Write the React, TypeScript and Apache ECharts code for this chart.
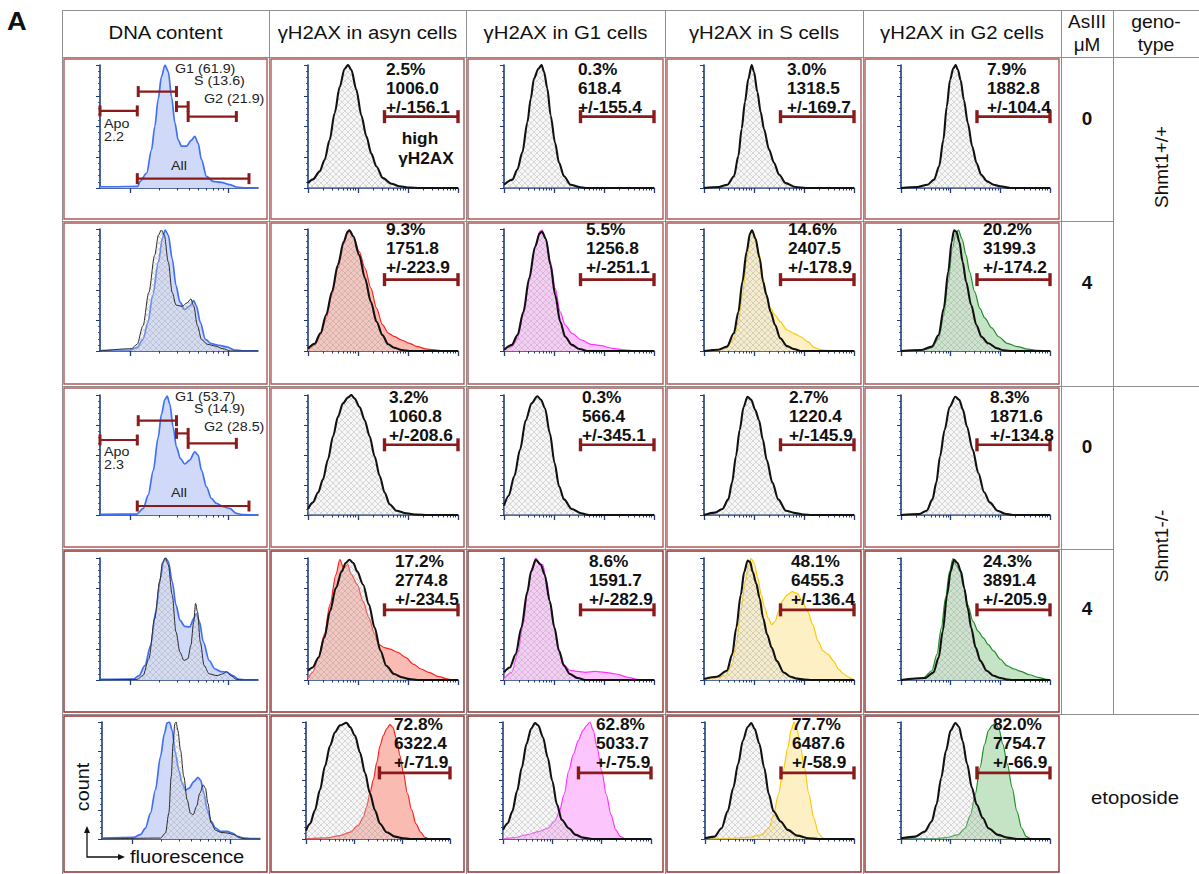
import React, { useEffect, useRef } from "react";
import * as echarts from "echarts";

type Pt = [number, number];

// x = % of the axis range (log fluorescence), y = % of the panel peak count
// ---------- row 1: Shmt1+/+, AsIII 0 ----------
const DNA_R1_BLUE: Pt[] = [[0,1],[8,1],[24,1.4],[25.3,5.4],[29.5,12],[32.6,31],[34.7,50],[36.8,72],[38.9,90.5],[41.1,100],[43.2,94.6],[45.3,74],[47.4,53],[49.5,39],[51.6,34],[54.7,34],[57.9,39],[60,42],[62.1,36.5],[64.2,23],[67.4,9.5],[71.6,5.4],[76.8,4.6],[82.1,2.7],[86.3,0.8],[92.6,0],[100,0]];
const ASYN_R1_BLACK: Pt[] = [[0,4],[3.3,7],[7.8,13.5],[11.1,23],[14.4,39],[17.8,61],[21.1,82],[24.4,97],[26.7,100],[28.9,96],[32.2,80],[35.6,59],[38.9,42],[42.2,28],[45.6,17.5],[50,8],[55.6,3.5],[61.1,1.4],[67.8,0.3],[74.4,0],[100,0]];
const G1_R1_BLACK: Pt[] = [[0,2.7],[5.6,6.8],[8.9,15],[12.2,28.8],[15.6,53.4],[17.8,72.6],[20,89],[22.9,97],[25.1,100],[26.7,94.5],[28.9,80.8],[31.1,59],[34,37],[36.7,20.5],[40,9.6],[44.4,2.7],[50,0.8],[54.4,0],[100,0]];
const S_R1_BLACK: Pt[] = [[0,0],[10,0.8],[15.6,2.7],[20,9.6],[22.9,26],[25.1,48],[27.3,70],[29.6,89],[31.8,100],[33.3,94.5],[35.6,78],[37.8,61.6],[40,48],[43.3,31.5],[46.7,20.5],[50,11],[54.4,4],[61.1,0.8],[67.8,0],[100,0]];
const G2_R1_BLACK: Pt[] = [[0,0],[11.1,0.8],[17.8,2.7],[22.2,6.8],[25.6,17.6],[28.4,39],[30.7,66],[32.9,87.8],[35.1,97.3],[36.7,100],[38.2,96],[40,87.8],[42.2,71.6],[44.9,52.7],[47.8,33.8],[50.7,20.3],[53.8,10.8],[57.8,5.4],[62.2,2.7],[66.7,1.4],[73.3,0],[100,0]];

// ---------- row 2: Shmt1+/+, AsIII 4 ----------
const DNA_R2_BLUE: Pt[] = [[0,0.3],[18.5,0.5],[23.5,2.8],[27.2,9.6],[30.4,23.4],[33.3,45.5],[37,73],[39.5,92.6],[41.2,99.2],[43.2,95],[45.7,75.8],[48.1,53.7],[50.6,40],[53.6,34],[56.8,37],[59.3,41.3],[61,37],[63.5,23.4],[66.7,9.6],[70.4,6],[75.3,4.7],[80.2,3.3],[85.2,0.8],[90.1,0.2],[100,0.2]];
const DNA_R2_BLACK: Pt[] = [[0,0],[19.8,1.9],[23.5,5.5],[27.2,20.7],[30.9,48],[34.6,78.5],[37,95],[38.8,99.2],[40.7,95],[43.2,73],[45.7,48],[48.1,37.7],[51.9,36.6],[55.1,39.4],[57.5,42.7],[59.3,37],[61.7,20.7],[64.2,9.6],[67.9,5.5],[72.8,4.1],[77.8,1.9],[82.7,0],[100,0]];
const ASYN_R2_RED: Pt[] = [[0,0.8],[4.4,5],[8.3,13],[12.1,26.8],[16,46],[19.9,68],[23.8,88],[26.4,96.4],[27.6,99],[30.2,94],[34.1,81.4],[38,68],[41.9,51.6],[45.7,35.2],[49.6,21.6],[53.5,14.7],[57.4,12],[62.5,9],[67.7,6.3],[72.9,3.6],[79.3,1.6],[85.8,0.8],[91,0],[100,0]];
const ASYN_R2_BLACK: Pt[] = [[0,2],[4.4,6],[8.3,14.5],[12.1,29.5],[16,48.6],[19.9,70.5],[23.8,89.6],[26.4,97.8],[27.6,99],[30.2,94],[34.1,78.7],[38,59.6],[41.9,40.4],[45.7,24],[49.6,13],[53.5,5.5],[57.4,2.7],[62.5,0.8],[67.7,0],[100,0]];
const G1_R2_MAG: Pt[] = [[0,0.8],[5.2,3.6],[9,10.4],[12.9,29.5],[16.8,56.8],[20.7,84],[23.8,97.8],[25.3,99],[27.9,92],[31,73],[34.1,51.4],[37.5,32],[40.8,21.3],[45.2,14.5],[51.7,9],[58.1,5.5],[64.6,4.4],[72.4,2.2],[80.1,1],[87.9,0],[100,0]];
const G1_R2_BLACK: Pt[] = [[0,0.8],[5.2,5],[9,13],[12.9,32],[16.8,59.6],[20.7,85.5],[23.8,96.4],[25.3,97.8],[27.9,92],[31,70.5],[34.1,46],[37.5,24],[40.8,11.7],[45.2,5],[50.4,1.6],[55.6,0],[100,0]];
const S_R2_YEL: Pt[] = [[0,0],[9.6,0.8],[15.3,2.7],[19.9,10.4],[22.9,24],[25.6,46],[28.4,73],[30.7,95],[32,99],[34.3,89.6],[37.1,78.7],[39.4,59.6],[41.6,46],[44.4,35],[47.4,29.5],[50.8,24],[55.4,17.2],[60,14.5],[64.5,11.7],[69.1,7.7],[73.7,2.7],[78.3,1],[85.1,0],[100,0]];
const S_R2_BLACK: Pt[] = [[0,0],[9.6,1],[15.3,3.6],[19.9,14.5],[22.9,32],[25.6,56.8],[28.4,81.4],[30.7,96.4],[32,99],[34.3,92.3],[37.1,76],[39.4,56.8],[41.6,46],[44.4,32],[47.4,21.3],[50.8,10.4],[55.4,4],[60,1.6],[64.5,0],[100,0]];
const G2_R2_GRN: Pt[] = [[0,0],[13.8,0.8],[20.7,2.7],[25.3,10.4],[28.7,29.5],[31.7,56.8],[34.5,84],[36.8,96.4],[38.6,99],[40.9,92],[43.7,78.7],[46,65],[49.4,48.6],[52.9,35],[56.3,27],[60.9,18.9],[65.5,11.7],[71.3,6.3],[78.2,3.6],[85.1,1.6],[92,0.5],[100,0]];
const G2_R2_BLACK: Pt[] = [[0,0],[13.8,0.8],[20.7,3.6],[25.3,13],[28.7,35],[31.7,65],[34,89.6],[35.6,99],[37.2,97.8],[39.1,89.6],[41.4,73],[43.7,56.8],[47.1,37.7],[50.6,21.3],[54,11.7],[58.6,6.3],[64.4,2.2],[69,0.5],[75,0],[100,0]];

// ---------- row 3: Shmt1-/-, AsIII 0 ----------
const DNA_R3_BLUE: Pt[] = [[0,0.5],[23.2,0.8],[27.4,5.5],[30.5,16.6],[33.7,37],[36.8,64.6],[38.9,84],[41.1,96.4],[42.5,99],[44.2,92.5],[46.3,73],[48.4,56.6],[50.9,47],[53.7,42.5],[56.8,45.8],[60,52.6],[62.1,50],[64.2,37.4],[67.4,23.5],[70.5,13.8],[73.7,9.7],[77.9,7],[82.1,5.5],[86.3,1.4],[90.5,0.3],[100,0]];
const ASYN_R3_BLACK: Pt[] = [[0,5],[3.3,10.5],[6.7,18.7],[10,29.8],[13.3,46.3],[16.7,65.6],[20,82],[23.3,93],[26.7,98],[28.9,100],[31.1,97],[34.4,90],[37.8,79],[41.1,65.6],[44.4,49],[47.8,32.5],[51.1,18.7],[54.4,9],[58.9,3.6],[65.6,1.4],[72.2,0.3],[80,0],[100,0]];
const G1_R3_BLACK: Pt[] = [[0,7.7],[3.1,16],[6.9,32.5],[10.7,54.5],[14.5,79],[18.4,93],[22.2,99],[24.7,96],[27.3,89],[30.6,68],[33.7,43.5],[36.7,24],[40,13],[45.2,5],[51.5,1.4],[56.6,0],[100,0]];
const S_R3_BLACK: Pt[] = [[0,0],[7.2,2],[12.3,5],[16.2,13],[18.7,27],[21.3,49],[23.8,71],[26.4,90],[29,98.6],[31.5,96],[34.1,87.6],[36.7,79],[39.2,63],[41.8,46],[45.6,27],[49.5,13],[54.6,3.6],[61,1.6],[66.2,0.3],[72,0],[100,0]];
const G2_R3_BLACK: Pt[] = [[0,0],[12.1,0.8],[17.2,3.6],[21.1,13],[23.7,27],[26.2,49],[29.3,71],[32.6,90],[36.5,98.6],[39.1,96],[41.6,87.6],[44.2,74],[48.1,54.5],[51.9,35],[55.8,19],[59.6,10.5],[64.8,3.6],[69.9,1],[75.1,0],[100,0]];

// ---------- row 4: Shmt1-/-, AsIII 4 ----------
const DNA_R4_BLUE: Pt[] = [[0,0.5],[21,0.8],[24.7,3.6],[28.4,11.8],[32.1,28.4],[35.3,56],[38.3,83.5],[40.2,97.2],[41.5,100],[43.2,97.2],[45.7,80.7],[48.1,61.4],[50.6,49],[53.6,44],[56.8,43.5],[59.3,50.4],[61,54.5],[63,47.7],[65.4,31],[69.1,16],[72.8,9],[76.5,6.9],[80.2,6.3],[84,3.6],[87.7,0.8],[92.6,0],[100,0]];
const DNA_R4_BLACK: Pt[] = [[0,0],[23.5,0.5],[27.2,3.6],[30.9,17.4],[34.6,50.4],[37.8,80.7],[39.5,95.9],[41.2,100],[43.2,94.5],[45.7,69.7],[48.1,39.4],[50.6,22.9],[53.1,16],[55.6,17.4],[57.5,28.4],[59.3,47.7],[60.5,62.8],[61.7,56],[63.5,31],[65.9,11.8],[69.1,5],[74.1,3.6],[77.8,5],[80.2,6.9],[82.7,3.6],[86.4,0.5],[90,0],[100,0]];
const ASYN_R4_RED: Pt[] = [[0,0.8],[3.1,6.3],[7,18.5],[10.9,37.5],[14.7,62],[18.6,86.4],[21.2,98.6],[23.8,91.8],[26.4,94.6],[28.9,86.4],[32.8,78.3],[36.7,64.7],[40.6,51.1],[44.4,37.5],[47,29.3],[50.9,26.6],[54.8,25.3],[59.9,22.6],[65.1,18.5],[70.3,13],[75.5,9],[80.6,6.3],[87.1,2.7],[93.5,0.8],[96.1,0],[100,0]];
const ASYN_R4_BLACK: Pt[] = [[0,7.6],[3.1,10.3],[7,18.5],[10.9,34.8],[14.7,56.5],[18.6,75.5],[22.5,89],[25.1,95.9],[27.6,98.6],[30.2,95.9],[32.8,89],[36.7,78.3],[40.6,62],[44.4,43],[48.3,24],[52.2,11.7],[57.4,4.9],[62.5,2.2],[67.7,0.8],[72.9,0],[100,0]];
const G1_R4_MAG: Pt[] = [[0,0.8],[5.2,6.3],[9,21],[12.9,45.7],[15.5,70],[18.6,91.8],[21.2,100],[23.8,94.6],[25.8,94.6],[28.4,81],[31,62],[33.6,43],[36.2,24],[39.3,13],[43.9,8],[49.1,7],[54.3,6.3],[60.7,7],[67.2,6.3],[74.9,4.9],[82.7,2.2],[87.9,0.8],[92,0],[100,0]];
const G1_R4_BLACK: Pt[] = [[0,6.3],[3.9,10.3],[7.8,21],[11.6,43],[15.5,72],[18.1,89],[21.2,98.6],[24.5,94.6],[27.1,86.4],[30.5,64.7],[33.6,43],[36.7,24],[40,11.7],[43.9,4.9],[49.1,1.6],[54.3,0],[100,0]];
const S_R4_YEL: Pt[] = [[0,0.8],[7.3,1.6],[14.2,3.5],[18.8,13],[21.5,29.2],[24.5,56.2],[27.5,80.5],[29.7,94],[31.4,99.5],[33.6,95.4],[35.9,83.2],[38.2,69.7],[40.5,59],[42.8,50.8],[45.1,45.4],[47.4,48.1],[49.7,56.2],[51.9,64.3],[55.4,69.7],[58.8,72.4],[62.2,71],[65.7,64.3],[69.1,56.2],[72.5,45.4],[76,31.9],[79.4,23.8],[82.8,21],[86.3,15.7],[89.7,8.9],[93.1,4.9],[96.6,2.2],[98.9,0.8],[100,0]];
const S_R4_BLACK: Pt[] = [[0,0.8],[8.5,2.7],[15.3,7.6],[18.8,21],[21.5,42.7],[24.5,69.7],[26.8,88.6],[29.1,98],[30.7,96.8],[32.5,88.6],[34.8,79.2],[37.1,67],[39.4,50.8],[42.1,37.3],[45.1,26.5],[48.5,15.7],[53.1,6.2],[57.7,2.7],[62.2,1.1],[66.8,0.3],[72,0],[100,0]];
const G2_R4_GRN: Pt[] = [[0,0],[14.9,1.6],[20.7,7.6],[24.1,21],[27.1,43],[29.9,67.6],[32.6,89],[34.9,99.5],[37.2,94],[39.5,89],[41.8,78],[44.8,61.6],[48.3,48],[51.7,40],[55.2,34.6],[58.6,29],[62.1,23.8],[66.7,17],[71.3,11.6],[75.9,9],[80.5,7],[86.2,4.3],[92,2.2],[96.6,0.8],[100,0]];
const G2_R4_BLACK: Pt[] = [[0,0],[16.1,1.6],[21.8,6.2],[25.3,18.4],[28,40],[31,70.3],[33.3,89],[35.6,98.6],[37.9,95.9],[40.2,89],[42.5,75],[44.8,59],[47.1,42.7],[50.1,26.5],[53.3,15.7],[57.5,7.6],[62.1,3.5],[66.7,1.6],[71.3,0.3],[75,0],[100,0]];

// ---------- row 5: etoposide ----------
const DNA_R5_BLUE: Pt[] = [[0,0.8],[20.1,1.4],[24.3,3.7],[27.5,9.3],[30.7,22.1],[33.8,41.9],[37,70.3],[39.5,90.1],[41.2,99.2],[42.7,100],[44.4,92.9],[46.5,73.1],[48.6,58.9],[50.7,47.6],[52.9,41.9],[55,43.3],[58.1,49],[60.7,52.7],[62.4,50.4],[64.5,39.1],[66.6,24.9],[69.1,15],[71.9,9.3],[75.1,6.5],[79.3,6.5],[82.5,5.1],[85.6,2.3],[89.9,0.8],[95,0.3],[100,0.3]];
const DNA_R5_BLACK: Pt[] = [[0,0],[37,0.8],[40.2,5.1],[42.3,22.1],[43.8,53.3],[45,81.6],[46.1,98.6],[46.9,100],[48,92.9],[49.7,75.9],[51.8,53.3],[53.9,33.4],[56,22.1],[57.7,20.7],[59.8,27.8],[61.9,39.1],[64.1,46.2],[65.5,43.3],[67,30.6],[69.1,13.6],[71.9,7.4],[75.1,5.7],[79.3,5.1],[83.5,3.7],[87.7,0.8],[92,0],[100,0]];
const ASYN_R5_RED: Pt[] = [[0,0],[14.4,0.9],[23.6,2.9],[30.6,5.8],[36.3,11.6],[39.8,18.8],[42.1,27.5],[44.4,39.1],[46.8,50.7],[49.1,65.2],[51.4,79.7],[53.7,88.4],[56,94.2],[58.3,97.7],[60.2,95.7],[62.9,85.5],[65.3,71],[67.6,56.5],[70.4,39.1],[73.4,24.6],[76.4,13],[79.6,5.8],[82.6,1.4],[86.1,0],[100,0]];
const ASYN_R5_BLACK: Pt[] = [[0,7.2],[2.8,13],[6.2,24.6],[9.7,42],[13.2,62.3],[16.7,79.7],[20.1,91.3],[23.6,97.1],[28.2,99.4],[30.6,95.7],[34,88.4],[37.5,73.9],[41,56.5],[44.4,39.1],[47.9,24.6],[51.4,13],[56,5.8],[61.8,2],[67.6,0.6],[72.2,0],[100,0]];
const G1_R5_MAG: Pt[] = [[0,0],[7.9,1.2],[15.9,3.5],[23.8,6.3],[30.2,9.2],[34.9,15],[38.1,23.6],[41.3,38],[44.4,58.2],[47.6,72.6],[50.8,84],[54,92.8],[56.5,97],[58.7,100],[61,92.8],[63.5,78.4],[66.7,58.2],[69.8,38],[73,20.7],[76.2,7.8],[79.4,2],[82.5,0],[100,0]];
const G1_R5_BLACK: Pt[] = [[0,7.8],[3.2,13.5],[6.3,23.6],[9.5,40.9],[12.7,61.1],[15.9,81.3],[19,94.2],[21.6,99.1],[23.8,97.1],[27,87],[30.2,69.7],[33.3,49.6],[36.5,29.4],[39.7,16.4],[44.4,9.2],[49.2,3.5],[54,1.2],[60.3,0],[100,0]];
const S_R5_YEL: Pt[] = [[0,0],[15.9,0.6],[28.6,1.4],[38.1,3.5],[42.9,9.2],[46,20.7],[49.2,38],[52.4,58.2],[55.6,78.4],[57.8,92.8],[59.7,100],[61.9,92.8],[64.1,78.4],[66.7,61.1],[69.8,38],[73,17.9],[76.2,4.9],[79.4,0.6],[82.5,0],[100,0]];
const S_R5_BLACK: Pt[] = [[0,0.6],[6.3,2],[11.1,9.2],[15.2,23.6],[19,43.8],[22.2,64],[25.4,84],[28.6,95.7],[31.1,99.1],[33.3,94.2],[36.5,81.3],[39.7,61.1],[42.9,38],[46,23.6],[50.8,15],[55.6,7.8],[61.9,2.9],[69.8,0.6],[76.2,0],[100,0]];
const G2_R5_GRN: Pt[] = [[0,0],[20.6,0],[30.2,1.2],[38.1,3.5],[42.9,9.2],[46.7,20.7],[49.8,38],[53,61.1],[56.2,81.3],[58.7,92.8],[61.3,97.1],[63.5,99.1],[65.7,94.2],[68.3,81.3],[71.4,64],[74.6,43.8],[77.8,23.6],[81,9.2],[84.1,2],[87.3,0],[100,0]];
const G2_R5_BLACK: Pt[] = [[0,0.6],[9.5,2],[15.9,6.3],[20.6,15],[23.8,29.4],[27,52.4],[30.2,75.5],[33.3,92.8],[36.5,99.1],[39,95.7],[41.3,84],[44.4,64],[47.6,43.8],[50.8,29.4],[54.9,17.9],[58.7,9.2],[65.1,3.5],[71.4,1.2],[77.8,0],[100,0]];

// ---------- statistics: % high γH2AX, mean, SD (rows × asyn,G1,S,G2) ----------
const PCT_HIGH = [[2.5,0.3,3.0,7.9],[9.3,5.5,14.6,20.2],[3.2,0.3,2.7,8.3],[17.2,8.6,48.1,24.3],[72.8,62.8,77.7,82.0]];
const MEAN_FL = [[1006.0,618.4,1318.5,1882.8],[1751.8,1256.8,2407.5,3199.3],[1060.8,566.4,1220.4,1871.6],[2774.8,1591.7,6455.3,3891.4],[6322.4,5033.7,6487.6,7754.7]];
const SD_FL = [[156.1,155.4,169.7,104.4],[223.9,251.1,178.9,174.2],[208.6,345.1,145.9,134.8],[234.5,282.9,136.4,205.9],[71.9,75.9,58.9,66.9]];

const PHASE_NAMES = ["G1", "S", "G2"];
const PHASES_R1 = [61.9, 13.6, 21.9];
const PHASES_R3 = [53.7, 14.9, 28.5];
const APO_R1 = 2.2;
const APO_R3 = 2.3;
const HEADERS = ["DNA content", "γH2AX in asyn cells", "γH2AX in G1 cells", "γH2AX in S cells", "γH2AX in G2 cells"];
const DOSES = ["0", "4", "0", "4"];
const GENOTYPES = ["Shmt1+/+", "Shmt1-/-"];

// gates [start, end, level] in axis units
const DNA_GATES_R1: [number, number, number][] = [[0,23.6,62.7],[24.2,48.4,78.4],[48.4,55.8,66.2],[55.8,86.3,58.1],[23.6,94.3,7.6]];
const DNA_GATES_R3: [number, number, number][] = [[0,23.6,62.5],[24.2,48.4,78.6],[48.4,55.8,68],[55.8,86.3,59.7],[23.6,94.3,7.5]];
const HIGH_GATE = [51, 100];
const HIGH_GATE_LEVEL = [58, 58.5, 58.5, 57.5, 56.5];

const CURVES: { col: Pt[] | null; blk: Pt[] | null }[][] = [
  [{ col: DNA_R1_BLUE, blk: null }, { col: null, blk: ASYN_R1_BLACK }, { col: null, blk: G1_R1_BLACK }, { col: null, blk: S_R1_BLACK }, { col: null, blk: G2_R1_BLACK }],
  [{ col: DNA_R2_BLUE, blk: DNA_R2_BLACK }, { col: ASYN_R2_RED, blk: ASYN_R2_BLACK }, { col: G1_R2_MAG, blk: G1_R2_BLACK }, { col: S_R2_YEL, blk: S_R2_BLACK }, { col: G2_R2_GRN, blk: G2_R2_BLACK }],
  [{ col: DNA_R3_BLUE, blk: null }, { col: null, blk: ASYN_R3_BLACK }, { col: null, blk: G1_R3_BLACK }, { col: null, blk: S_R3_BLACK }, { col: null, blk: G2_R3_BLACK }],
  [{ col: DNA_R4_BLUE, blk: DNA_R4_BLACK }, { col: ASYN_R4_RED, blk: ASYN_R4_BLACK }, { col: G1_R4_MAG, blk: G1_R4_BLACK }, { col: S_R4_YEL, blk: S_R4_BLACK }, { col: G2_R4_GRN, blk: G2_R4_BLACK }],
  [{ col: DNA_R5_BLUE, blk: DNA_R5_BLACK }, { col: ASYN_R5_RED, blk: ASYN_R5_BLACK }, { col: G1_R5_MAG, blk: G1_R5_BLACK }, { col: S_R5_YEL, blk: S_R5_BLACK }, { col: G2_R5_GRN, blk: G2_R5_BLACK }],
];

// ---------- layout & style ----------
const COLS = [62, 269, 466, 665, 863, 1061, 1113, 1199];
const ROWS = [57, 221, 386, 549, 714, 874];
const PLOT_TOP = [65, 229, 395, 558, 722];
const PLOT_BOT = [188, 351, 515, 680, 839];
const DNA_LEFT = [100, 100, 100, 100, 102];
const DNA_W = 158;
const HIST_LEFT = [[308,504,704,901],[308,504,704,901],[308,504,704,901],[308,504,704,901],[306,503,705,901]];
const HIST_W = [[150,150,150,149],[150,150,150,149],[150,150,150,149],[150,150,150,149],[144,148,149,149]];
const STAT_X = [[386,578,787,987],[386,586,788,983],[389,582,789,990],[395,589,791,983],[394,596,792,993]];
const STAT_Y0 = [70, 230, 398, 562, 725];

const LINE_COL = ["#3f70f5", "#ff2020", "#ff33ff", "#ffc800", "#1f8f26"];
const FILL_COL = ["#d0daf8", "#f9bbb2", "#fcc6fc", "#fdf0c4", "#c5e4c5"];
const AXIS = "#1f3b7a";
const GATE = "#8b1a1a";
const FF = '"Liberation Sans", Arial, Helvetica, sans-serif';

const HIST_MAJOR = [0, 100 / 3, 200 / 3, 100];
const HIST_MINOR: number[] = [];
for (let d = 0; d < 3; d++) for (let k = 2; k <= 9; k++) HIST_MINOR.push(((d + Math.log10(k)) * 100) / 3);
const DNA_MAJOR = [19, 81];
const DNA_MINOR: number[] = [];
for (let k = 2; k <= 9; k++) DNA_MINOR.push(19 + 62 * Math.log10(k));

function txt(x: number, y: number, text: string, size: number, o: any = {}) {
  const align = o.align ?? "left";
  return {
    type: "text", x, y, z: 50, silent: true,
    scaleX: o.sx ?? 1.12, rotation: o.rot ?? 0,
    style: {
      text, fontSize: size, fontWeight: o.bold ? "bold" : "normal", fontFamily: FF,
      fill: o.fill ?? "#111", textAlign: align, textVerticalAlign: "middle",
      align, verticalAlign: "middle",
    },
  };
}

export default function App() {
  const ref = useRef<HTMLDivElement>(null);
  useEffect(() => {
    if (!ref.current) return;
    const chart = echarts.init(ref.current, undefined, { renderer: "svg" });

    const T = 6;
    const cv = document.createElement("canvas");
    cv.width = T; cv.height = T;
    const ctx = cv.getContext("2d")!;
    ctx.fillStyle = "rgba(225,225,225,0.3)";
    ctx.fillRect(0, 0, T, T);
    ctx.strokeStyle = "rgba(120,120,120,0.42)";
    ctx.lineWidth = 0.6;
    ctx.beginPath();
    ctx.moveTo(0, 0); ctx.lineTo(T, T);
    ctx.moveTo(T, 0); ctx.lineTo(0, T);
    ctx.stroke();
    const hatch: any = { image: cv, repeat: "repeat", imageWidth: T, imageHeight: T };

    const grids: any[] = [], xAxes: any[] = [], yAxes: any[] = [], series: any[] = [];
    const gateSeries = (gi: number, a: number, b: number, lvl: number, cap: number, w: number) => ({
      type: "line", xAxisIndex: gi * 2, yAxisIndex: gi, data: [[a, lvl], [b, lvl]],
      symbol: "rect", symbolSize: [w + 0.8, cap], showSymbol: true, clip: false, silent: true,
      lineStyle: { color: GATE, width: w }, itemStyle: { color: GATE }, z: 6,
    });

    let gi = 0;
    for (let r = 0; r < 5; r++) {
      for (let c = 0; c < 5; c++) {
        const left = c === 0 ? DNA_LEFT[r] : HIST_LEFT[r][c - 1];
        const width = c === 0 ? DNA_W : HIST_W[r][c - 1];
        grids.push({ left, top: PLOT_TOP[r], width, height: PLOT_BOT[r] - PLOT_TOP[r] });
        xAxes.push({
          gridIndex: gi, type: "value", min: 0, max: 100, position: "bottom",
          axisLine: { show: true, onZero: false, lineStyle: { color: AXIS, width: 1.6 } },
          axisTick: { show: true, customValues: c === 0 ? DNA_MINOR : HIST_MINOR, length: 2.5, lineStyle: { color: AXIS, width: 1 } },
          axisLabel: { show: false }, splitLine: { show: false },
        });
        xAxes.push({
          gridIndex: gi, type: "value", min: 0, max: 100, position: "bottom",
          axisLine: { show: false, onZero: false },
          axisTick: { show: true, customValues: c === 0 ? DNA_MAJOR : HIST_MAJOR, length: 5, lineStyle: { color: AXIS, width: 1.3 } },
          axisLabel: { show: false }, splitLine: { show: false },
        });
        yAxes.push({
          gridIndex: gi, type: "value", min: 0, max: 100, interval: 25,
          axisLine: { show: true, onZero: false, lineStyle: { color: AXIS, width: 1.6 } },
          axisTick: { show: true, length: 4, lineStyle: { color: AXIS, width: 1 } },
          minorTick: { show: true, splitNumber: 5, length: 2, lineStyle: { color: AXIS, width: 0.8 } },
          axisLabel: { show: false }, splitLine: { show: false }, minorSplitLine: { show: false },
        });
        const cur = CURVES[r][c];
        if (cur.col) {
          series.push({
            type: "line", xAxisIndex: gi * 2, yAxisIndex: gi, data: cur.col, showSymbol: false, symbol: "none",
            smooth: 0.3, smoothMonotone: "x", silent: true,
            lineStyle: { color: LINE_COL[c], width: c === 0 ? 1.7 : 1.2 },
            areaStyle: { color: FILL_COL[c], opacity: 1 }, z: 2,
          });
        }
        if (cur.blk) {
          series.push({
            type: "line", xAxisIndex: gi * 2, yAxisIndex: gi, data: cur.blk, showSymbol: false, symbol: "none",
            smooth: 0.3, smoothMonotone: "x", silent: true,
            lineStyle: { color: c === 0 ? "#2b2b2b" : "#111", width: c === 0 ? 1 : 2.1 },
            areaStyle: { color: hatch, opacity: 1 }, z: 3,
          });
        }
        if (c > 0) {
          series.push(gateSeries(gi, HIGH_GATE[0], HIGH_GATE[1], HIGH_GATE_LEVEL[r], 13, 2.6));
        } else if (r === 0 || r === 2) {
          const gates = r === 0 ? DNA_GATES_R1 : DNA_GATES_R3;
          gates.forEach((g) => series.push(gateSeries(gi, g[0], g[1], g[2], 11, 2.2)));
        }
        gi++;
      }
    }

    const graphic: any[] = [];
    const gray = "#8e8e8e";
    const hl = (y: number, x1: number, x2: number) => ({ type: "line", z: 1, silent: true, shape: { x1, y1: y, x2, y2: y }, style: { stroke: gray, lineWidth: 1 } });
    const vl = (x: number, y1: number, y2: number) => ({ type: "line", z: 1, silent: true, shape: { x1: x, y1, x2: x, y2 }, style: { stroke: gray, lineWidth: 1 } });
    graphic.push(hl(10.5, 62, 1199), hl(57.5, 62, 1199), hl(221.5, 62, 1113), hl(386.5, 62, 1199), hl(549.5, 62, 1113), hl(714.5, 62, 1199));
    graphic.push(vl(62.5, 10, 874), vl(269.5, 10, 874), vl(466.5, 10, 874), vl(665.5, 10, 874), vl(863.5, 10, 874), vl(1061.5, 10, 714), vl(1113.5, 10, 714));
    for (let r = 0; r < 5; r++) {
      for (let c = 0; c < 5; c++) {
        graphic.push({
          type: "rect", z: 1, silent: true,
          shape: { x: COLS[c] + 2, y: ROWS[r] + 2, width: COLS[c + 1] - COLS[c] - 4, height: ROWS[r + 1] - ROWS[r] - 4 },
          style: { fill: "none", stroke: r >= 3 ? "#962f2f" : "#b05a5a", lineWidth: 1.4 },
        });
      }
    }

    // headers
    graphic.push(txt(7, 21, "A", 26, { bold: true, sx: 1.05 }));
    HEADERS.forEach((h, i) => graphic.push(txt((COLS[i] + COLS[i + 1]) / 2, 33, h, 18, { align: "center", sx: 1.13 })));
    graphic.push(txt(1087, 22, "AsIII", 18, { align: "center", sx: 1.05 }));
    graphic.push(txt(1087, 45, "μM", 18, { align: "center", sx: 1.05 }));
    graphic.push(txt(1156, 22, "geno-", 18, { align: "center", sx: 1.08 }));
    graphic.push(txt(1156, 45, "type", 18, { align: "center", sx: 1.08 }));
    const doseY = [119, 283, 447, 609];
    DOSES.forEach((d, i) => graphic.push(txt(1087, doseY[i], d, 18, { bold: true, align: "center", sx: 1.05 })));
    graphic.push(txt(1162, 167, GENOTYPES[0], 18, { align: "center", rot: Math.PI / 2, sx: 1.05 }));
    graphic.push(txt(1162, 546, GENOTYPES[1], 18, { align: "center", rot: Math.PI / 2, sx: 1.05 }));
    graphic.push(txt(1135, 798, "etoposide", 18, { align: "center", sx: 1.13 }));

    // stats
    for (let r = 0; r < 5; r++) {
      for (let c = 0; c < 4; c++) {
        const x = STAT_X[r][c], y0 = STAT_Y0[r];
        graphic.push(txt(x, y0, `${PCT_HIGH[r][c].toFixed(1)}%`, 16, { bold: true, sx: 1.08 }));
        graphic.push(txt(x, y0 + 19, MEAN_FL[r][c].toFixed(1), 16, { bold: true, sx: 1.08 }));
        graphic.push(txt(x, y0 + 38, `+/-${SD_FL[r][c].toFixed(1)}`, 16, { bold: true, sx: 1.08 }));
      }
    }
    graphic.push(txt(420, 139, "high", 16, { bold: true, align: "center", sx: 1.08 }));
    graphic.push(txt(426, 159, "γH2AX", 16, { bold: true, align: "center", sx: 1.08 }));

    // DNA gate labels
    const phaseLbl = (vals: number[], apo: number, dy: number, allY: number) => {
      const px = [175, 194, 204];
      const py = [69, 81, 99];
      PHASE_NAMES.forEach((n, i) => graphic.push(txt(px[i], py[i] + dy, `${n} (${vals[i].toFixed(1)})`, 13, { fill: "#222", sx: 1.1 })));
      graphic.push(txt(104, 124 + dy, "Apo", 13, { fill: "#222", sx: 1.1 }));
      graphic.push(txt(104, 137 + dy, apo.toFixed(1), 13, { fill: "#222", sx: 1.1 }));
      graphic.push(txt(179, allY, "All", 13, { fill: "#222", sx: 1.1, align: "center" }));
    };
    phaseLbl(PHASES_R1, APO_R1, 0, 166);
    phaseLbl(PHASES_R3, APO_R3, 328, 493);

    // axis legend (count / fluorescence)
    graphic.push(txt(83, 787, "count", 18, { align: "center", rot: Math.PI / 2, sx: 1.1 }));
    graphic.push(txt(130, 857, "fluorescence", 18, { sx: 1.12 }));
    graphic.push({ type: "polyline", z: 40, silent: true, shape: { points: [[87, 832], [87, 857], [119, 857]] }, style: { stroke: "#111", lineWidth: 1.3, fill: "none" } });
    graphic.push({ type: "polygon", z: 40, silent: true, shape: { points: [[87, 826], [84, 833], [90, 833]] }, style: { fill: "#111" } });
    graphic.push({ type: "polygon", z: 40, silent: true, shape: { points: [[125, 857], [118, 854], [118, 860]] }, style: { fill: "#111" } });

    chart.setOption({
      animation: false,
      backgroundColor: "#ffffff",
      grid: grids,
      xAxis: xAxes,
      yAxis: yAxes,
      series,
      graphic,
    });
    return () => chart.dispose();
  }, []);
  return <div ref={ref} style={{ position: "absolute", left: 0, top: 0, width: 1199, height: 874 }} />;
}
